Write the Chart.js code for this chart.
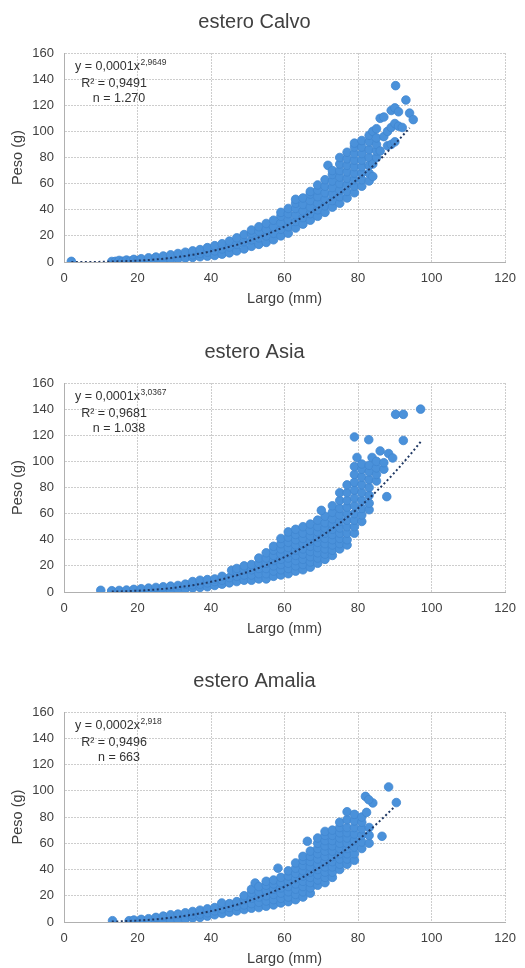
<!DOCTYPE html>
<html>
<head>
<meta charset="utf-8">
<title>Peso vs Largo</title>
<script src="https://cdn.jsdelivr.net/npm/chart.js@4/dist/chart.umd.min.js"></script>
<style>
  html, body { margin: 0; padding: 0; background: #fff; }
  body { width: 525px; height: 968px; position: relative; overflow: hidden; }
  .box { position: absolute; left: 0; width: 525px; }
  .box canvas { display: block; }
</style>
</head>
<body>
<div class="box" style="top:0px"><canvas id="calvo" width="525" height="308"></canvas></div>
<div class="box" style="top:330px"><canvas id="asia" width="525" height="308"></canvas></div>
<div class="box" style="top:659px"><canvas id="amalia" width="525" height="309"></canvas></div>
<script>
// axis ticks
const xTicks = [0, 20, 40, 60, 80, 100, 120];
const yTicks = [0, 20, 40, 60, 80, 100, 120, 140, 160];

// estero Calvo: [largo mm, peso g]
const calvoPoints = [
  [2,0.5],
  [13,0.4],[14,0.5],[15,0.5],[15,1.2],[16,0.6],[17,0.6],[17,1.5],[18,0.7],[19,0.8],[19,2],[20,0.9],
  [21,1],[21,2.5],[23,1],[23,3.2],[25,1.2],[25,3.8],[27,1.5],[27,4.6],[29,2],[29,5.5],[31,2.5],[31,6.5],[33,3],[33,7.5],
  [35,3.5],[35,5.5],[35,8.5],[37,4],[37,6.5],[37,9.5],[39,4.5],[39,7.5],[39,11],[41,5],[41,8.5],[41,12.5],
  [43,6],[43,10],[43,14],[45,7],[45,11.5],[45,16],[47,8.5],[47,13.5],[47,18.5],[49,10],[49,15.5],[49,21],
  [51,12],[51,17],[51,22],[51,24.5],[53,13.5],[53,18.5],[53,23.5],[53,27],[55,15],[55,20],[55,25],[55,29.5],
  [57,17],[57,22],[57,27],[57,32],[59,20],[59,25],[59,30],[59,35],[59,38],[61,22],[61,27],[61,32],[61,37],[61,41],
  [63,26],[63,31],[63,36],[63,41],[63,45],[63,48],[65,29],[65,34],[65,39],[65,44],[65,49],
  [67,32],[67,37],[67,42],[67,47],[67,52],[67,54],[69,35],[69,40],[69,45],[69,50],[69,55],[69,59],
  [71,38],[71,43],[71,48],[71,53],[71,58],[71,63],[71.8,74],[73,42],[73,47],[73,52],[73,57],[73,62],[73,67],[73,70],
  [75,45],[75,50],[75,55],[75,60],[75,65],[75,70],[75,75],[75,80],[77,49],[77,54],[77,59],[77,64],[77,69],[77,74],[77,79],[77,84],
  [79,53],[79,58],[79,63],[79,68],[79,73],[79,78],[79,83],[79,88],[79,91],[81,58],[81,63],[81,68],[81,73],[81,78],[81,83],[81,88],[81,93],
  [83,62],[83,68],[83,74],[83,80],[83,86],[83,92],[83,97],[84,65.5],[84,75],[84,100],[85,80],[85,85],[85,90],[85,95],[85,102],
  [86,110],[86,85],[87,96],[87,111],[88,100],[88,89],[89,90],[89,103],[89,116],[90,92],[90,106],[90,118],[90.2,135],
  [91,104],[91,115],[92,103],[93,124],[94,114],[95,109]
];
const calvoTrendX = [2, 10, 15, 20, 25, 30, 35, 40, 45, 50, 55, 60, 65, 70, 75, 80, 85, 90, 94];
const calvoTrendY = [0, 0.1, 0.5, 1, 2, 3.5, 5.5, 8.2, 11.6, 15.8, 21, 27.1, 34.4, 42.9, 52.7, 63.8, 76, 90.3, 102.7];
const calvoLabel = ['y = 0,0001x', '2,9649', 'R\u00b2 = 0,9491', 'n = 1.270'];

// estero Asia
const asiaPoints = [
  [10,1.3],
  [13,0.4],[13,1],[15,0.5],[15,1.2],[17,0.5],[17,1.5],[19,0.6],[19,2],[21,0.7],[21,2.5],[23,0.8],[23,3],[25,1],[25,3.5],
  [27,1.2],[27,4],[29,1.5],[29,4.5],[31,2],[31,5],[33,2.5],[33,6],
  [35,3],[35,5.5],[35,8],[37,3.5],[37,6],[37,9],[39,4],[39,7],[39,9.5],[41,5],[41,8],[41,10],[43,6],[43,9],[43,12],[45,7],[45,11],[45.6,16.6],
  [47,8],[47,12],[47,16],[47,18],[49,9],[49,13],[49,17],[49,20],[51,9],[51,13],[51,17],[51,21],[53,10],[53,14],[53,18],[53,22],[53,26],
  [55,10],[55,14],[55,18],[55,22],[55,26],[55,30],[57,12],[57,16],[57,20],[57,24],[57,28],[57,32],[57,35],
  [59,13],[59,17],[59,21],[59,25],[59,29],[59,33],[59,37],[59,41],[61,14],[61,18],[61,22],[61,26],[61,30],[61,34],[61,38],[61,42],[61,46],
  [63,16],[63,20],[63,24],[63,28],[63,32],[63,36],[63,40],[63,44],[63,48],[65,17],[65,21],[65,25],[65,29],[65,33],[65,37],[65,41],[65,45],[65,50],
  [67,19],[67,23],[67,27],[67,31],[67,35],[67,39],[67,43],[67,47],[67,52],[69,22],[69,26],[69,30],[69,34],[69,38],[69,42],[69,46],[69,50],[69,55],
  [71,25],[71,29],[71,33],[71,37],[71,41],[71,45],[71,49],[71,53],[71,58],[70,62.5],
  [73,28],[73,32],[73,36],[73,40],[73,44],[73,48],[73,52],[73,56],[73,61],[73,66],
  [75,33],[75,37],[75,41],[75,45],[75,49],[75,54],[75,59],[75,64],[75,70],[75,76],
  [77,36],[77,40],[77,45],[77,50],[77,55],[77,60],[77,65],[77,70],[77,76],[77,82],
  [79,45],[79,50],[79,55],[79,60],[79,66],[79,72],[79,78],[79,84],[79,90],[79,96],[79.7,103],[79,118.7],
  [81,54],[81,59],[81,64],[81,70],[81,76],[81,82],[81,88],[81,94],[81,98],
  [83,63],[83,68],[83,74],[83,80],[83,86],[83,92],[83,97],[83.8,103],[82.9,116.6],
  [85,85],[85,90],[85,95],[85,100],[86,108],[87,94],[87,99],[87.8,73],[88.3,106],[89.4,102.6],
  [90.2,136],[92.3,136],[92.3,116],[97,140]
];
const asiaTrendX = [13, 15, 20, 25, 30, 35, 40, 45, 50, 55, 60, 65, 70, 75, 80, 85, 90, 95, 97];
const asiaTrendY = [0.3, 0.4, 1, 1.9, 3.3, 5.2, 7.8, 11.2, 15.4, 20.6, 26.8, 34.2, 42.8, 52.7, 64.1, 77.1, 91.7, 108, 115];
const asiaLabel = ['y = 0,0001x', '3,0367', 'R\u00b2 = 0,9681', 'n = 1.038'];

// estero Amalia
const amaliaPoints = [
  [13.2,1],[17.7,1],[19,0.5],[19,1.5],[21,0.5],[21,2],[23,0.6],[23,2.5],[25,0.7],[25,3.5],[27,1],[27,4.5],[29,1.3],[29,5.5],
  [31,1.8],[31,6],[33,2.3],[33,7],
  [35,3],[35,5.5],[35,8],[37,3.5],[37,6],[37,9],[39,4.5],[39,7],[39,10],[41,5.5],[41,8.5],[41,11],[43,6.5],[43,10],[42.9,14.5],
  [45,7.5],[45,11],[45,14],[47,8.5],[47,12],[47,15.5],[49,9.5],[49,13],[49,17],[49,20],
  [51,10.5],[51,14],[51,18],[51,22],[51,25],[52,29.7],
  [53,11],[53,15],[53,19],[53,23],[53,27],[55,12],[55,16],[55,20],[55,24],[55,28],[55,31],
  [57,13],[57,17],[57,21],[57,25],[57,29],[57,32],[58.2,41],
  [59,14.5],[59,18],[59,22],[59,26],[59,30],[59,34],[61,15.5],[61,19],[61,23],[61,27],[61,31],[61,35],[61,39],
  [63,17],[63,21],[63,25],[63,29],[63,33],[63,37],[63,41],[63,45],[65,19],[65,23],[65,27],[65,31],[65,35],[65,39],[65,43],[65,47],[65,50],[66.2,61.5],
  [67,22],[67,26],[67,30],[67,34],[67,38],[67,42],[67,46],[67,50],[67,54],
  [69,28],[69,32],[69,36],[69,40],[69,44],[69,48],[69,52],[69,56],[69,60],[69,64],
  [71,30],[71,34],[71,38],[71,42],[71,46],[71,50],[71,54],[71,58],[71,62],[71,66],[71,69],
  [73,34],[73,38],[73,42],[73,46],[73,50],[73,54],[73,58],[73,62],[73,66],[73,70],
  [75,40],[75,44],[75,48],[75,52],[75,56],[75,60],[75,64],[75,68],[75,72],[75,76],
  [77,44],[77,48],[77,52],[77,56],[77,60],[77,64],[77,68],[77,72],[77,78],[77,84],
  [79,47],[79,52],[79,57],[79,62],[79,67],[79,72],[79,77],[79,82],[81,56],[81,61],[81,66],[81,71],[81,76],[81,80],
  [82.3,83.5],[82,95.7],[83,60],[83,66],[83,72],[84,90.7],[82.9,93.2],[86.5,65.3],[88.3,102.9],[90.4,91]
];
const amaliaTrendX = [13, 15, 20, 25, 30, 35, 40, 45, 50, 55, 60, 65, 70, 75, 80, 85, 90];
const amaliaTrendY = [0.3, 0.5, 1.1, 2.1, 3.6, 5.6, 8.3, 11.6, 15.8, 21, 26.9, 34.2, 42.3, 51.8, 62.4, 74.6, 88];
const amaliaLabel = ['y = 0,0002x', '2,918', 'R\u00b2 = 0,9496', 'n = 663'];

const FONT = '"Liberation Sans", Arial, Helvetica, sans-serif';
const TEXT = '#404040';

// trendline equation box, top-left of the plot area
const equationLabel = {
    id: 'equationLabel',
    afterDatasetsDraw(chart, args, opts) {
        const lines = opts.lines;
        if (!lines) return;
        const { ctx, chartArea } = chart;
        const left = chartArea.left;
        const top = chartArea.top;
        ctx.save();
        ctx.fillStyle = '#333';
        ctx.textBaseline = 'middle';
        ctx.textAlign = 'left';
        ctx.font = '12.5px ' + FONT;
        ctx.fillText(lines[0], left + 11, top + 14);
        const w = ctx.measureText(lines[0]).width;
        ctx.font = '8.5px ' + FONT;
        ctx.fillText(lines[1], left + 11 + w + 0.5, top + 10);
        ctx.font = '12.5px ' + FONT;
        ctx.textAlign = 'center';
        ctx.fillText(lines[2], left + 50, top + 30.5);
        ctx.fillText(lines[3], left + 55, top + 46);
        ctx.restore();
    }
};

function makeChart(id, title, points, trendX, trendY, label) {
    const canvas = document.getElementById(id);
    return new Chart(canvas, {
        type: 'scatter',
        data: {
            datasets: [
                {
                    type: 'line',
                    data: trendX.map((x, i) => ({ x: x, y: trendY[i] })),
                    borderColor: '#1f3864',
                    borderWidth: 2,
                    borderDash: [2, 2.5],
                    pointRadius: 0,
                    fill: false,
                    cubicInterpolationMode: 'monotone',
                    order: 0
                },
                {
                    data: points.map(p => ({ x: p[0], y: p[1] })),
                    backgroundColor: '#4a91da',
                    borderColor: '#4086d0',
                    borderWidth: 0.8,
                    pointRadius: 4.3,
                    order: 1
                }
            ]
        },
        options: {
            responsive: false,
            animation: false,
            layout: { padding: { left: 0, right: 16, top: 0, bottom: 0 } },
            plugins: {
                legend: { display: false },
                tooltip: { enabled: false },
                title: {
                    display: true,
                    text: title,
                    color: TEXT,
                    font: { family: FONT, size: 20, weight: 'normal' },
                    padding: { top: 10, bottom: 19 }
                },
                equationLabel: { lines: label }
            },
            scales: {
                x: {
                    type: 'linear',
                    min: xTicks[0],
                    max: xTicks[xTicks.length - 1],
                    afterBuildTicks: s => { s.ticks = xTicks.map(v => ({ value: v })); },
                    afterFit: s => { s.height = 46; },
                    ticks: { padding: 9, color: TEXT, font: { family: FONT, size: 13 } },
                    grid: { color: '#cdcdcd', drawTicks: false, lineWidth: 1 },
                    border: { display: true, color: '#b0b0b0', dash: [2, 1] },
                    title: {
                        display: true, text: 'Largo (mm)', color: TEXT,
                        font: { family: FONT, size: 14.5 }, padding: { top: 0, bottom: 0 }
                    }
                },
                y: {
                    type: 'linear',
                    min: yTicks[0],
                    max: yTicks[yTicks.length - 1],
                    afterBuildTicks: s => { s.ticks = yTicks.map(v => ({ value: v })); },
                    afterFit: s => { s.width = 64; },
                    ticks: { padding: 10, color: TEXT, font: { family: FONT, size: 13 } },
                    grid: { color: '#cdcdcd', drawTicks: false, lineWidth: 1 },
                    border: { display: true, color: '#b0b0b0', dash: [2, 1] },
                    title: {
                        display: true, text: 'Peso (g)', color: TEXT,
                        font: { family: FONT, size: 14.5 }, padding: { top: 9, bottom: 0 }
                    }
                }
            }
        },
        plugins: [equationLabel]
    });
}

makeChart('calvo', 'estero Calvo', calvoPoints, calvoTrendX, calvoTrendY, calvoLabel);
makeChart('asia', 'estero Asia', asiaPoints, asiaTrendX, asiaTrendY, asiaLabel);
makeChart('amalia', 'estero Amalia', amaliaPoints, amaliaTrendX, amaliaTrendY, amaliaLabel);
</script>
</body>
</html>
